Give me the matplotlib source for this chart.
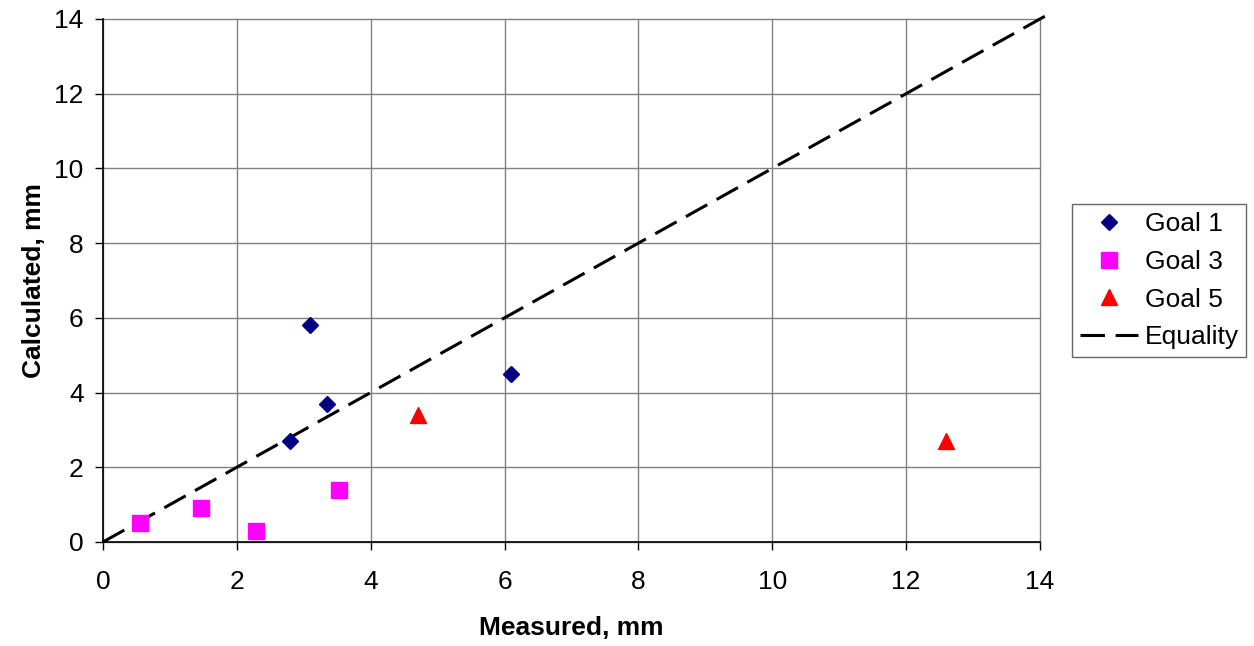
import matplotlib
matplotlib.use("Agg")
import matplotlib.pyplot as plt

plt.rcParams['font.family'] = ['Liberation Sans', 'DejaVu Sans']

# data
goal1_x = [2.8, 3.1, 3.35, 6.1]
goal1_y = [2.7, 5.8, 3.7, 4.5]
goal3_x = [0.55, 1.47, 2.28, 3.53]
goal3_y = [0.5, 0.9, 0.3, 1.4]
goal5_x = [4.7, 12.6]
goal5_y = [3.4, 2.7]
equality = [0, 14.15]
ticks = [0, 2, 4, 6, 8, 10, 12, 14]

fig = plt.figure(figsize=(12.54, 6.46), dpi=100)
ax = fig.add_axes([0.0821, 0.161, 0.7472, 0.8096])

ax.plot(goal1_x, goal1_y, linestyle='none', marker='D', color='#000080',
        markersize=8, label='Goal 1', zorder=3)
ax.plot(goal3_x, goal3_y, linestyle='none', marker='s', color='#FF00FF',
        markersize=11, label='Goal 3', zorder=3)
ax.plot(goal5_x, goal5_y, linestyle='none', marker='^', color='#FF0000',
        markersize=11, label='Goal 5', zorder=3)
ax.plot(equality, equality, color='black', linestyle=(0, (8, 3.5)),
        linewidth=2.2, label='Equality', clip_on=False, zorder=2)

ax.set_xlim(0, 14)
ax.set_ylim(0, 14)
ax.set_xticks(ticks)
ax.set_yticks(ticks)
ax.grid(True, color='#808080', linewidth=1)
for gl in ax.get_xgridlines() + ax.get_ygridlines():
    gl.set_clip_on(False)
ax.set_axisbelow(True)
ax.spines['top'].set_visible(False)
ax.spines['right'].set_visible(False)
ax.spines['left'].set_linewidth(1.2)
ax.spines['bottom'].set_linewidth(1.2)
ax.tick_params(axis='both', direction='out', length=6, width=1, labelsize=19)
ax.tick_params(axis='x', pad=14)
ax.tick_params(axis='y', pad=8)

ax.set_xlabel('Measured, mm', fontsize=19, fontweight='bold', labelpad=16)
ax.set_ylabel('Calculated, mm', fontsize=19, fontweight='bold', labelpad=6)

leg = fig.legend(loc='lower left', bbox_to_anchor=(0.855, 0.447, 0.139, 0.238),
                 mode='expand', fontsize=19, frameon=True, fancybox=False,
                 edgecolor='#404040', handlelength=2.2, labelspacing=0.52,
                 borderpad=0.3, handletextpad=0.25, borderaxespad=0)
leg.get_frame().set_linewidth(1)

fig.savefig('out.png', dpi=100)
